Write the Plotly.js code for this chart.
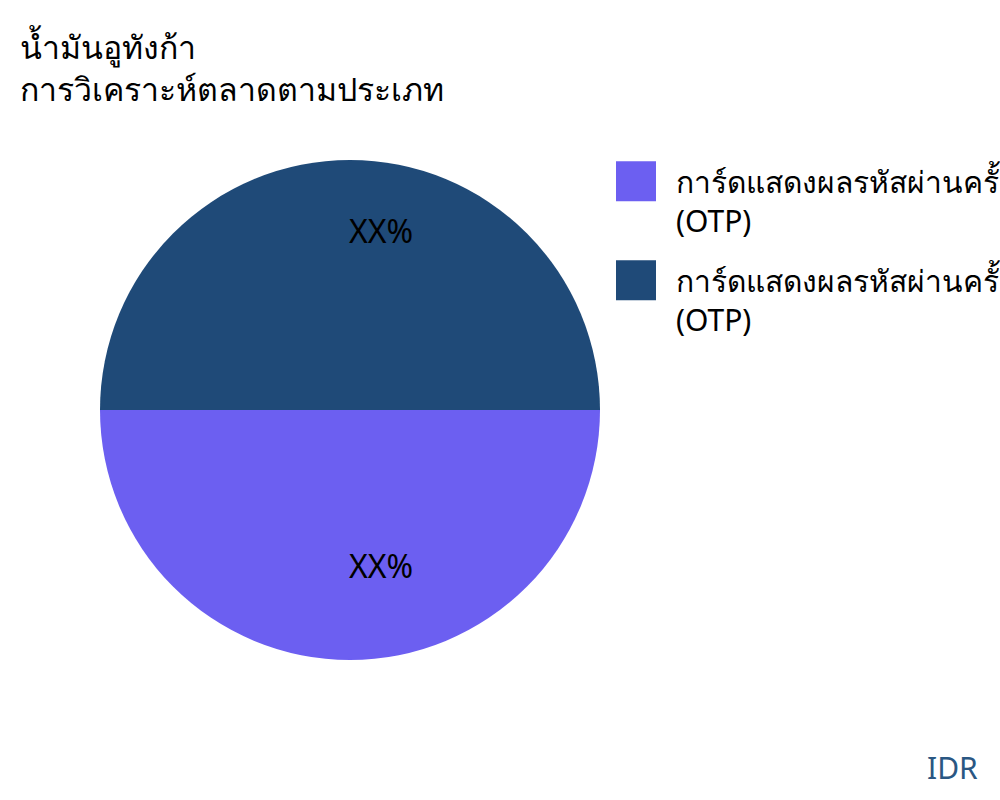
<!DOCTYPE html>
<html>
<head>
<meta charset="utf-8">
<script src="https://cdn.plot.ly/plotly-3.0.1.min.js"></script>
<style>body{margin:0;padding:0;background:#fff;overflow:hidden;}#chart{width:1000px;height:800px;overflow:hidden;}</style>
</head>
<body>
<div id="chart"></div>
<script>
const categories = [
  "การ์ดแสดงผลรหัสผ่านครั้งเดียวแบบสัมผัส<br>(OTP)",
  "การ์ดแสดงผลรหัสผ่านครั้งเดียวแบบไร้สัมผัส<br>(OTP)"
];
const values = [50, 50];
const sliceColors = ["#6C5FF1", "#1F4A78"];
const sliceText = ["XX%", "XX%"];
const titleLines = ["น้ำมันอูทังก้า", "การวิเคราะห์ตลาดตามประเภท"];
const footnote = "IDR";

const pieDomain = {x: [0.1, 0.6], y: [0.175, 0.8]};
const labelDomain = {x: [0.131, 0.631], y: [0.19, 0.815]};

// coloured disc with legend
const baseTrace = {
  type: "pie",
  labels: categories,
  values: values,
  textinfo: "none",
  marker: {colors: sliceColors, line: {width: 0}},
  sort: false,
  direction: "counterclockwise",
  rotation: 90,
  hoverinfo: "none",
  domain: pieDomain
};

// transparent ring carrying the percentage labels
const labelTrace = {
  type: "pie",
  labels: categories,
  values: values,
  text: sliceText,
  texttemplate: "%{text}",
  textposition: "inside",
  insidetextorientation: "horizontal",
  insidetextfont: {color: "#000000", size: 32, family: "Noto Sans, sans-serif"},
  marker: {colors: ["rgba(0,0,0,0)", "rgba(0,0,0,0)"], line: {width: 0}},
  hole: 0.34,
  sort: false,
  direction: "counterclockwise",
  rotation: 90,
  hoverinfo: "none",
  showlegend: false,
  domain: labelDomain
};

const layout = {
  width: 1000,
  height: 800,
  margin: {l: 0, r: 0, t: 0, b: 0, autoexpand: false},
  paper_bgcolor: "#ffffff",
  font: {family: "Noto Sans, sans-serif", color: "#000000"},
  title: {
    text: titleLines.join("<br>"),
    x: 0.02, xanchor: "left",
    y: 0.926, yanchor: "top",
    font: {size: 32, color: "#000000", family: "Noto Sans, sans-serif"}
  },
  showlegend: true,
  legend: {
    x: 0.596, xanchor: "left",
    y: 0.806, yanchor: "top",
    valign: "top",
    font: {size: 30, color: "#000000", family: "Noto Sans, sans-serif"},
    itemwidth: 70
  },
  annotations: [{
    text: footnote,
    xref: "paper", yref: "paper",
    x: 0.98, y: 0.012, xanchor: "right", yanchor: "bottom",
    showarrow: false,
    font: {size: 30, color: "#2A5783", family: "Noto Sans, sans-serif"}
  }]
};

Plotly.newPlot("chart", [baseTrace, labelTrace], layout, {displayModeBar: false}).then(function () {
  document.querySelectorAll("#chart .legend path.legendpie").forEach(function (p) {
    p.setAttribute("d", "M20,20H-20V-20H20Z");
  });
  document.querySelectorAll("#chart .legend, #chart .legend *").forEach(function (el) {
    if (el.hasAttribute("clip-path")) el.removeAttribute("clip-path");
  });
  // extra spacing between legend entries
  document.querySelectorAll("#chart .legend g.traces").forEach(function (g, i) {
    const t = g.getAttribute("transform") || "";
    const m = t.match(/translate\(\s*([-\d.]+)[ ,]+([-\d.]+)\s*\)/);
    if (m) {
      g.setAttribute("transform", "translate(" + m[1] + "," + (parseFloat(m[2]) + i * 18) + ")");
    }
  });
});
</script>
</body>
</html>
